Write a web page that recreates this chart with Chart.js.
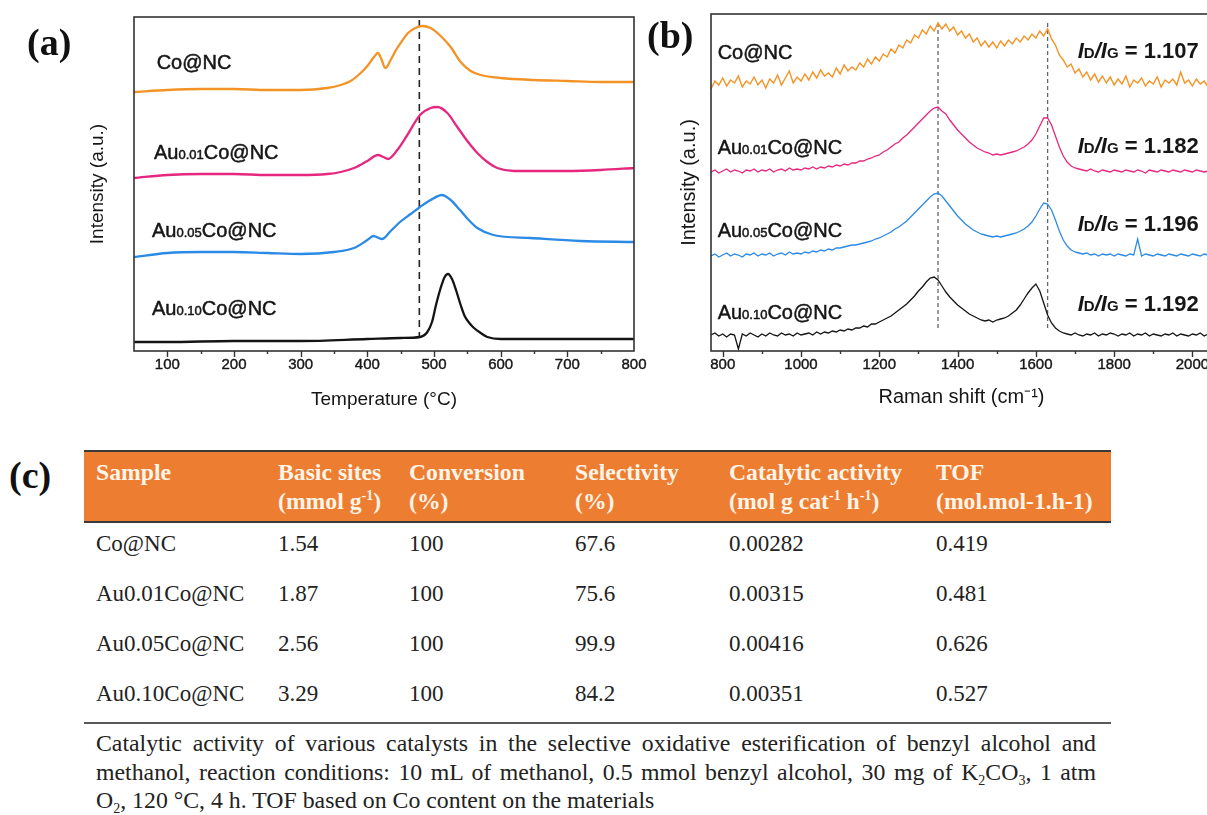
<!DOCTYPE html>
<html><head><meta charset="utf-8">
<script src="https://cdn.jsdelivr.net/npm/chart.js@4.4.1/dist/chart.umd.min.js"></script>
<style>
html,body{margin:0;padding:0;background:#fff;width:1207px;height:815px;overflow:hidden;}
#wrap{position:relative;width:1207px;height:815px;overflow:hidden;background:#fff;}
canvas{position:absolute;}
.panel{position:absolute;font-family:"Liberation Serif","Times New Roman",serif;font-weight:bold;font-size:38px;color:#111;line-height:38px;}
.tbl{position:absolute;font-family:"Liberation Serif","Times New Roman",serif;font-size:23px;color:#222;white-space:nowrap;}
.hdr{font-weight:bold;color:#fff4e8;font-size:23.7px;}
.rule{position:absolute;left:84px;width:1027px;}
sup{font-size:14px;position:relative;top:-9px;vertical-align:baseline;line-height:0;}
sub{font-size:14px;position:relative;top:5px;vertical-align:baseline;line-height:0;}
.note{position:absolute;left:96px;width:1000px;font-family:"Liberation Serif","Times New Roman",serif;font-size:23.8px;line-height:28px;color:#222;text-align:justify;text-align-last:justify;white-space:nowrap;}
</style>
</head><body>
<div id="wrap">
<canvas id="chartA" width="660" height="420" style="left:0;top:0;width:660px;height:420px"></canvas>
<canvas id="chartB" width="600" height="420" style="left:640px;top:0;width:600px;height:420px"></canvas>
<div class="panel" style="left:27px;top:23px">(a)</div>
<div class="panel" style="left:647px;top:16px">(b)</div>
<div class="panel" style="left:9px;top:456px">(c)</div>
<div id="table"></div>
</div>
<script>
// ---------- (a) H2-TPR style curves: temperature (°C) vs offset intensity (a.u.) ----------
const tprCoNC_T = [50,100,150,200,250,300,340,360,375,390,400,410,416,421,427,435,443,452,461,472,482,495,510,525,540,555,570,600,650,700,750,800];
const tprCoNC_I = [259,261,262,262,261,261,263,266,270,278,285,294,298,292,283,291,301,310,318,323,325,323,315,304,289,280,276,273,271,270,269,269];
const tprAu001_T = [50,100,150,200,250,300,340,360,380,400,416,424,431,445,460,479,495,505,520,535,550,565,580,595,620,700,750,800];
const tprAu001_I = [173,176,177,177,176,176,177,179,183,190,196,194,192,201,216,236,243,244,238,224,210,198,189,183,180,180,181,183];
const tprAu005_T = [50,100,150,200,250,300,350,380,400,409,422,435,449,465,479,495,512,525,539,552,565,589,645,720,800];
const tprAu005_I = [94,98,99,99,98,97,99,103,111,115,112,120,129,137,144,151,156,151,141,131,123,116,113,110,109];
const tprAu010_T = [50,100,200,300,400,450,479,490,497,503,510,516,521,527,533,540,546,553,560,570,580,600,700,800];
const tprAu010_I = [9,9,10,10,12,13,14,19,29,46,63,74,77,72,61,46,35,28,23,18,14,12,12,12];
const tprRefT = 478;
const tprRefRange = [331,14];
const tprTickLabels = [100,200,300,400,500,600,700,800];

// ---------- (b) Raman spectra: shift (cm-1) vs offset intensity (a.u.) ----------
const ramanShift = [770,780,790,800,810,820,830,840,850,860,870,880,890,900,910,920,930,940,950,960,970,980,990,1000,1010,1020,1030,1040,1050,1060,1070,1080,1090,1100,1110,1120,1130,1140,1150,1160,1170,1180,1190,1200,1210,1220,1230,1240,1250,1260,1270,1280,1290,1300,1310,1320,1330,1340,1350,1360,1370,1380,1390,1400,1410,1420,1430,1440,1450,1460,1470,1480,1490,1500,1510,1520,1530,1540,1550,1560,1570,1580,1590,1600,1610,1620,1630,1640,1650,1660,1670,1680,1690,1700,1710,1720,1730,1740,1750,1760,1770,1780,1790,1800,1810,1820,1830,1840,1850,1860,1870,1880,1890,1900,1910,1920,1930,1940,1950,1960,1970,1980,1990,2000,2010,2020,2030,2040,2050];
const ramanCoNC = [262,270,266,273,265,271,268,275,264,270,267,274,266,271,263,272,268,276,266,273,280,268,274,270,277,271,279,273,281,275,278,274,283,277,286,280,284,281,288,284,292,287,294,290,297,294,302,298,306,303,311,308,316,313,321,317,325,320,328,322,327,320,324,316,320,313,317,309,313,305,310,304,309,303,310,305,311,307,313,309,315,311,317,313,320,315,322,312,306,296,291,284,287,278,282,274,279,271,277,269,275,268,274,266,272,267,275,264,271,268,273,265,270,267,274,264,271,268,272,266,279,268,271,265,272,267,270,264,269];
const ramanAu001 = [179,181,178,180,182,179,181,180,178,181,180,182,179,181,180,182,179,181,182,180,183,181,182,181,183,182,184,182,184,183,185,184,186,185,187,186,188,188,190,190,192,193,195,196,199,201,204,207,209,213,216,220,224,228,232,236,240,243,244,240,237,231,226,221,217,213,209,206,203,201,199,198,196,197,196,197,198,199,200,202,204,207,211,217,225,233,233,226,215,204,195,189,185,183,182,181,180,182,180,179,181,180,179,181,180,179,181,180,179,181,180,178,181,180,179,181,180,179,181,180,179,181,180,179,181,180,179,180,179];
const ramanAu005 = [95,97,94,96,98,95,97,96,94,97,96,98,95,97,96,98,95,97,98,96,99,97,98,97,99,98,100,99,101,100,102,101,103,103,104,105,106,106,107,108,109,110,112,113,115,117,119,122,124,127,130,134,138,142,146,150,154,157,158,155,150,145,140,135,131,127,124,121,119,117,116,115,114,115,114,115,116,117,118,120,122,125,129,135,142,148,147,141,131,120,111,105,101,99,98,97,98,96,97,95,97,96,97,95,97,96,95,97,96,112,95,97,96,95,97,96,95,97,96,95,97,96,95,97,96,95,97,96,95];
const ramanAu010 = [16,18,15,17,14,17,16,2,17,15,18,16,14,17,15,18,16,15,18,16,17,15,18,16,17,18,16,19,17,19,18,20,19,21,20,22,21,23,23,25,24,27,27,29,31,33,35,38,41,44,47,51,55,60,64,69,73,74,71,65,59,54,50,46,43,40,37,35,33,31,30,31,29,31,32,33,35,38,41,46,52,58,63,67,60,48,36,28,23,20,18,17,16,18,16,15,17,16,18,15,17,16,18,17,15,17,16,18,15,17,16,18,15,17,16,15,17,16,18,15,17,16,15,17,16,18,15,17,16];
const ramanBands = [1350,1630];
const ramanBandRange = [328,21];
const idigRatios = ['1.107','1.182','1.196','1.192'];

// ---------- (c) table ----------
const sampleNames = ['Co@NC','Au0.01Co@NC','Au0.05Co@NC','Au0.10Co@NC'];
const basicSites = ['1.54','1.87','2.56','3.29'];
const conversion = ['100','100','100','100'];
const selectivity = ['67.6','75.6','99.9','84.2'];
const catalyticActivity = ['0.00282','0.00315','0.00416','0.00351'];
const tofValues = ['0.419','0.481','0.626','0.527'];
const headerLine1 = ['Sample','Basic sites','Conversion','Selectivity','Catalytic activity','TOF'];
const headerLine2 = ['','(mmol g<sup>-1</sup>)','(%)','(%)','(mol g cat<sup>-1</sup> h<sup>-1</sup>)','(mol.mol-1.h-1)'];
const noteLines = [
  'Catalytic activity of various catalysts in the selective oxidative esterification of benzyl alcohol and',
  'methanol, reaction conditions: 10 mL of methanol, 0.5 mmol benzyl alcohol, 30 mg of K<sub>2</sub>CO<sub>3</sub>, 1 atm',
  'O<sub>2</sub>, 120 °C, 4 h. TOF based on Co content on the materials'
];

// ---------- table build ----------
(function(){
  const colX = [96,278,409,575,729,936];
  const rowY = [528.5,578.5,628.5,678.5];
  const noteY = [729,758,786];
  const t = document.getElementById('table');
  let h = '';
  h += '<div class="rule" style="top:450px;height:2px;background:#3a3a3a"></div>';
  h += '<div class="rule" style="top:452px;height:69px;background:#ed7d31"></div>';
  h += '<div class="rule" style="top:521px;height:2px;background:#3a3a3a"></div>';
  h += '<div class="rule" style="top:722px;height:2px;background:#5a5a5a"></div>';
  headerLine1.forEach((s,i)=>{
    h += `<div class="tbl hdr" style="left:${colX[i]}px;top:458px;line-height:29px">${s}<br>${headerLine2[i]}</div>`;
  });
  const cols = [sampleNames,basicSites,conversion,selectivity,catalyticActivity,tofValues];
  rowY.forEach((y,r)=>{
    cols.forEach((c,i)=>{
      h += `<div class="tbl" style="left:${colX[i]}px;top:${y}px;line-height:29px">${c[r]}</div>`;
    });
  });
  noteLines.forEach((s,i)=>{
    const last = i===noteLines.length-1;
    h += `<div class="note" style="top:${noteY[i]}px;${last?'text-align:left;text-align-last:left;':''}">${s}</div>`;
  });
  t.innerHTML = h;
})();

// ---------- plugins ----------
const framePlugin = {
  id:'frame',
  afterDatasetsDraw(chart, args, o){
    const {ctx, chartArea:{left,top,right,bottom}} = chart;
    ctx.save(); ctx.strokeStyle=o.color||'#333'; ctx.lineWidth=o.width||1.5;
    ctx.strokeRect(left, top, right-left, bottom-top); ctx.restore();
  }
};
const tickPlugin = {
  id:'tickMarks',
  afterDatasetsDraw(chart, args, o){
    const {ctx, chartArea} = chart; const sx = chart.scales.x;
    ctx.save(); ctx.strokeStyle=o.color||'#333'; ctx.lineWidth=o.width||1.3;
    sx.ticks.forEach(t=>{
      const v=t.value;
      if (v<=sx.min || v>=sx.max || v % o.minor !== 0) return;
      const len = (v % o.major === 0) ? o.majorLen : o.minorLen;
      const px = Math.round(sx.getPixelForValue(v))+0.5;
      ctx.beginPath(); ctx.moveTo(px, chartArea.bottom); ctx.lineTo(px, chartArea.bottom+len); ctx.stroke();
    });
    ctx.restore();
  }
};
const labelPlugin = {
  id:'seriesLabels',
  afterDatasetsDraw(chart, args, o){
    const {ctx} = chart; const sx=chart.scales.x, sy=chart.scales.y;
    ctx.save(); ctx.textBaseline='alphabetic'; ctx.fillStyle=o.color||'#222';
    ctx.strokeStyle=o.color||'#222'; ctx.lineWidth=o.stroke||0; ctx.lineJoin='round';
    (o.items||[]).forEach(it=>{
      let x = sx.getPixelForValue(it.x); const y = sy.getPixelForValue(it.y);
      it.parts.forEach(p=>{
        ctx.font = `${p.style||'normal'} ${p.weight||'normal'} ${p.size}px ${o.family}`;
        ctx.fillText(p.t, x, y);
        if (o.stroke && p.weight!=='bold') ctx.strokeText(p.t, x, y);
        x += ctx.measureText(p.t).width + (p.gap||0);
      });
    });
    ctx.restore();
  }
};
function nameParts(name, big, small){
  const m = name.match(/^Au(0\.\d+)(Co@NC)$/);
  if (!m) return [{t:name,size:big}];
  return [{t:'Au',size:big},{t:m[1],size:small},{t:m[2],size:big}];
}
const SANS = '"Liberation Sans", Arial, Helvetica, sans-serif';
const pts = (xs, ys) => xs.map((x,i)=>({x, y:ys[i]}));
const lineDS = (data, color, w, extra) => Object.assign({data, borderColor:color, borderWidth:w, pointRadius:0, fill:false}, extra||{});

// ---------- chart (a) ----------
new Chart(document.getElementById('chartA'), {
  type:'line',
  data:{datasets:[
    lineDS(pts(tprCoNC_T,tprCoNC_I), '#f39325', 2.3, {cubicInterpolationMode:'monotone'}),
    lineDS(pts(tprAu001_T,tprAu001_I), '#e5277f', 2.3, {cubicInterpolationMode:'monotone'}),
    lineDS(pts(tprAu005_T,tprAu005_I), '#2a8ae6', 2.3, {cubicInterpolationMode:'monotone'}),
    lineDS(pts(tprAu010_T,tprAu010_I), '#141414', 2.3, {cubicInterpolationMode:'monotone'}),
    lineDS([{x:tprRefT,y:tprRefRange[0]},{x:tprRefT,y:tprRefRange[1]}], '#222', 1.6, {borderDash:[7,5]})
  ]},
  options:{
    responsive:false, animation:false, devicePixelRatio:1,
    layout:{padding:{left:0,top:17,right:26,bottom:0}},
    plugins:{legend:{display:false}, tooltip:{enabled:false},
      frame:{color:'#333',width:1.6},
      tickMarks:{minor:50,major:100,majorLen:6,minorLen:3,color:'#333',width:1.4},
      seriesLabels:{family:SANS,color:'#161616',stroke:0.5,items:[
        {x:84,y:282,parts:nameParts(sampleNames[0],20,13)},
        {x:80,y:192,parts:nameParts(sampleNames[1],20,13)},
        {x:77,y:114,parts:nameParts(sampleNames[2],20,13)},
        {x:77,y:36,parts:nameParts(sampleNames[3],20,13)}
      ]}
    },
    scales:{
      x:{type:'linear',min:50,max:800,
        grid:{display:false,drawTicks:false},border:{display:false},
        ticks:{stepSize:50,includeBounds:false,autoSkip:false,maxRotation:0,padding:5,color:'#161616',textStrokeColor:'#161616',textStrokeWidth:0.4,font:{family:SANS,size:15},
          callback:v=>tprTickLabels.includes(v)?String(v):''},
        title:{display:true,text:'Temperature (°C)',color:'#161616',font:{family:SANS,size:19},padding:{top:0,bottom:9}},
        afterFit:s=>{s.height=69;s.paddingLeft=0;s.paddingRight=0;}
      },
      y:{min:0,max:334,
        grid:{display:false,drawTicks:false},border:{display:false},
        ticks:{display:false},
        title:{display:true,text:'Intensity (a.u.)',color:'#161616',font:{family:SANS,size:19},padding:{top:86,bottom:0}},
        afterFit:s=>{s.width=134;s.paddingTop=0;s.paddingBottom=0;}
      }
    }
  },
  plugins:[framePlugin,tickPlugin,labelPlugin]
});

// ---------- chart (b) ----------
const idigParts = r => [
  {t:'I',size:22,weight:'bold',style:'italic'},{t:'D',size:15,weight:'bold'},
  {t:'/',size:22,weight:'bold',style:'italic'},{t:'I',size:22,weight:'bold',style:'italic'},{t:'G',size:15,weight:'bold'},
  {t:' = '+r,size:22,weight:'bold'}
];
new Chart(document.getElementById('chartB'), {
  type:'line',
  data:{datasets:[
    lineDS(pts(ramanShift,ramanCoNC), '#f39325', 1.4),
    lineDS(pts(ramanShift,ramanAu001), '#e5277f', 1.3),
    lineDS(pts(ramanShift,ramanAu005), '#2a8ae6', 1.3),
    lineDS(pts(ramanShift,ramanAu010), '#141414', 1.3),
    lineDS([{x:ramanBands[0],y:ramanBandRange[0]},{x:ramanBands[0],y:ramanBandRange[1]}], '#666', 1.3, {borderDash:[4,3]}),
    lineDS([{x:ramanBands[1],y:ramanBandRange[0]},{x:ramanBands[1],y:ramanBandRange[1]}], '#666', 1.3, {borderDash:[4,3]})
  ]},
  options:{
    responsive:false, animation:false, devicePixelRatio:1,
    layout:{padding:{left:0,top:14,right:28,bottom:0}},
    plugins:{legend:{display:false}, tooltip:{enabled:false},
      frame:{color:'#333',width:1.6},
      tickMarks:{minor:100,major:200,majorLen:6,minorLen:3,color:'#333',width:1.4},
      seriesLabels:{family:SANS,color:'#161616',stroke:0.5,items:[
        {x:787,y:292,parts:nameParts(sampleNames[0],20,13)},
        {x:787,y:197,parts:nameParts(sampleNames[1],20,13)},
        {x:787,y:114,parts:nameParts(sampleNames[2],20,13)},
        {x:787,y:32,parts:nameParts(sampleNames[3],20,13)},
        {x:1707,y:293,parts:idigParts(idigRatios[0])},
        {x:1707,y:198,parts:idigParts(idigRatios[1])},
        {x:1707,y:120,parts:idigParts(idigRatios[2])},
        {x:1707,y:40,parts:idigParts(idigRatios[3])}
      ]}
    },
    scales:{
      x:{type:'linear',min:770,max:2050,
        grid:{display:false,drawTicks:false},border:{display:false},
        ticks:{stepSize:100,includeBounds:false,autoSkip:false,maxRotation:0,padding:5,color:'#161616',textStrokeColor:'#161616',textStrokeWidth:0.4,font:{family:SANS,size:15},
          callback:v=>(v%200===0)?String(v):''},
        title:{display:true,text:'Raman shift (cm⁻¹)',color:'#161616',font:{family:SANS,size:20},padding:{top:0,bottom:11}},
        afterFit:s=>{s.height=69;s.paddingLeft=0;s.paddingRight=0;}
      },
      y:{min:0,max:337,
        grid:{display:false,drawTicks:false},border:{display:false},
        ticks:{display:false},
        title:{display:true,text:'Intensity (a.u.)',color:'#161616',font:{family:SANS,size:20},padding:{top:37,bottom:0}},
        afterFit:s=>{s.width=71;s.paddingTop=0;s.paddingBottom=0;}
      }
    }
  },
  plugins:[framePlugin,tickPlugin,labelPlugin]
});
</script>
</body></html>
